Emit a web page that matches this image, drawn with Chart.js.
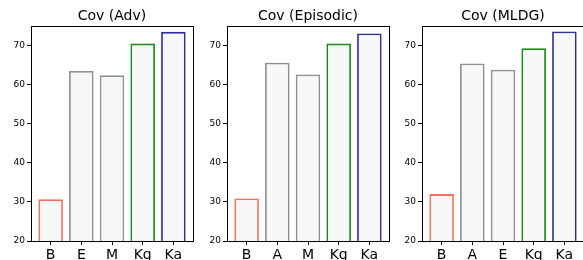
<!DOCTYPE html>
<html>
<head>
<meta charset="utf-8">
<script src="https://cdn.jsdelivr.net/npm/chart.js@4/dist/chart.umd.min.js"></script>
<style>
  body { margin: 0; background: #fff; width: 583px; height: 260px; overflow: hidden; position: relative; }
  canvas { position: absolute; top: 0; }
</style>
</head>
<body>
<canvas id="c0" width="194" height="260" style="left:0px"></canvas>
<canvas id="c1" width="194" height="260" style="left:196px"></canvas>
<canvas id="c2" width="194" height="260" style="left:391px"></canvas>
<script>
// panel titles
var titles = ["Cov (Adv)", "Cov (Episodic)", "Cov (MLDG)"];
// bar labels per panel
var labelsAdv = ["B", "E", "M", "Kg", "Ka"];
var labelsEpi = ["B", "A", "M", "Kg", "Ka"];
var labelsMldg = ["B", "A", "E", "Kg", "Ka"];
// values per panel
var valuesAdv = [30.7, 63.5, 62.4, 70.5, 73.5];
var valuesEpi = [30.9, 65.6, 62.6, 70.5, 73.1];
var valuesMldg = [32.0, 65.4, 63.8, 69.3, 73.6];
// edge colours per bar
var edgeColors = ["#fa6e5a", "#8f8f8f", "#8f8f8f", "#188a18", "#2e2ea4"];

var panels = [
  { id: "c0", labels: labelsAdv, values: valuesAdv },
  { id: "c1", labels: labelsEpi, values: valuesEpi },
  { id: "c2", labels: labelsMldg, values: valuesMldg }
];

var font = "'DejaVu Sans', sans-serif";

// box around plot area + title on top
var frame = {
  id: "frame",
  afterDraw: function(chart) {
    var a = chart.chartArea, c = chart.ctx;
    c.save();
    c.strokeStyle = "#000";
    c.lineWidth = 1;
    c.strokeRect(Math.round(a.left) + 0.5, Math.round(a.top) + 0.5,
                 Math.round(a.right - a.left), Math.round(a.bottom - a.top));
    c.fillStyle = "#000";
    c.font = "14px " + font;
    c.textAlign = "center";
    c.textBaseline = "middle";
    c.fillText(chart.options.plugins.frameTitle, (a.left + a.right) / 2, 16);
    c.restore();
  }
};

panels.forEach(function(p, k) {
  new Chart(document.getElementById(p.id), {
    type: "bar",
    data: {
      datasets: [{
        data: p.values.map(function(v, i) { return { x: i, y: v }; }),
        backgroundColor: "#f7f7f7",
        borderColor: edgeColors,
        borderWidth: 1.8,
        barPercentage: 0.8,
        categoryPercentage: 1
      }]
    },
    options: {
      responsive: false,
      animation: false,
      layout: { padding: { top: 26, right: 1, left: 0, bottom: 0 } },
      plugins: { legend: { display: false }, tooltip: { enabled: false }, frameTitle: titles[k] },
      scales: {
        x: {
          type: "linear",
          min: -0.64,
          max: 4.64,
          offset: false,
          grid: { drawOnChartArea: false, offset: false, color: "#000", tickLength: 4 },
          border: { display: false },
          afterBuildTicks: function(s) {
            s.ticks = p.labels.map(function(l, i) { return { value: i }; });
          },
          ticks: {
            autoSkip: false,
            maxRotation: 0,
            padding: 2,
            color: "#000",
            font: { family: font, size: 14 },
            callback: function(v) { return p.labels[v]; }
          },
          afterFit: function(s) { s.height = 19; }
        },
        y: {
          min: 20,
          max: 75,
          grid: { drawOnChartArea: false, color: "#000", tickLength: 4 },
          border: { display: false },
          ticks: {
            stepSize: 10,
            includeBounds: false,
            padding: 2,
            color: "#000",
            font: { family: font, size: 9 }
          },
          afterFit: function(s) { s.width = 31; }
        }
      }
    },
    plugins: [frame]
  });
});
</script>
</body>
</html>
